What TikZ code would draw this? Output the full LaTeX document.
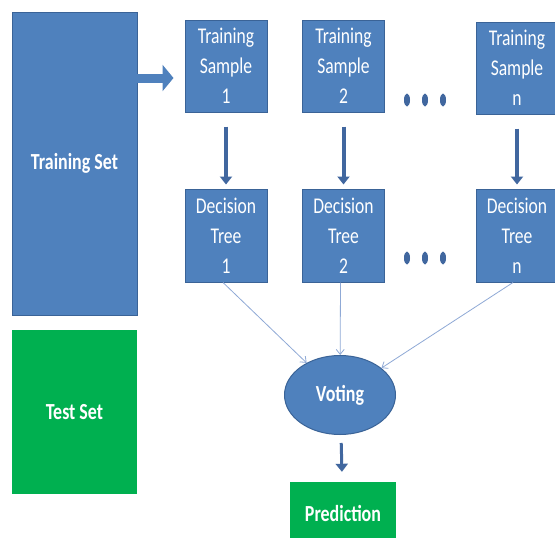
\documentclass[tikz,border=0pt]{standalone}
\usepackage{fontspec}
\setmainfont{Carlito}
\newfontfamily\tallfont{Carlito}[FakeStretch=0.78]
\usetikzlibrary{arrows.meta,shapes.geometric}
\definecolor{boxblue}{HTML}{4F81BD}
\definecolor{edgeblue}{HTML}{3A6397}
\definecolor{boxgreen}{HTML}{00B050}
\definecolor{arrowblue}{HTML}{41679F}
\definecolor{thinblue}{HTML}{8FA9D6}
\begin{document}
\begin{tikzpicture}[x=1pt, y=-1pt,
    setbox/.style={rectangle, fill=#1, text=white, minimum width=125pt, inner sep=0pt, font=\tallfont\fontsize{23}{26}\selectfont\bfseries},
    stage/.style={rectangle, draw=edgeblue, line width=1pt, fill=boxblue, text=white, minimum width=82pt, minimum height=92pt, align=center, inner sep=0pt, font=\tallfont\fontsize{22.5}{30}\selectfont},
    blockarr/.style={-{Triangle[length=11pt,width=26pt]}, line width=9pt, color=boxblue},
    downarr/.style={-{Triangle[length=8pt,width=12pt]}, line width=4pt, color=arrowblue},
    thinarr/.style={-{Straight Barb[length=5pt,width=8pt]}, line width=0.8pt, color=thinblue}
]
    \useasboundingbox[fill=white] (0,0) rectangle (555,538);

    % Ensembles de donnees
    \node[setbox=boxblue, draw=edgeblue, line width=1pt, minimum height=303pt] (trainset) at (74.5,163.5) {Training Set};
    \node[setbox=boxgreen, minimum height=164pt] (testset) at (74.5,412) {Test Set};

    % Echantillons et arbres
    \node[stage] (sample1) at (226,66) {Training\\Sample\\1};
    \node[stage] (sample2) at (343.5,66) {Training\\Sample\\2};
    \node[stage] (samplen) at (517,68) {Training\\Sample\\n};
    \node[stage, minimum height=93pt] (tree1) at (226,235.5) {Decision\\Tree\\1};
    \node[stage, minimum height=93pt] (tree2) at (343.5,235.5) {Decision\\Tree\\2};
    \node[stage, minimum height=93pt] (treen) at (517,235.5) {Decision\\Tree\\n};

    % Vote et prediction
    \node[ellipse, draw=edgeblue, line width=1pt, fill=boxblue, text=white, minimum width=111pt, minimum height=79pt, font=\tallfont\fontsize{23}{26}\selectfont\bfseries] (voting) at (340,395) {Voting};
    \node[setbox=boxgreen, minimum width=106pt, minimum height=62pt] (prediction) at (343,513) {Prediction};

    % Points de suspension
    \foreach \y in {100,258}
        \foreach \x in {407,425,443}
            \fill[arrowblue] (\x,\y) ellipse (3pt and 6.5pt);

    % Fleches
    \coordinate (entry) at ([yshift=-12pt]sample1.west);
    \draw[blockarr, shorten <=-8pt, shorten >=11pt] (trainset.east |- entry) -- (entry);
    \draw[downarr, shorten <=14pt, shorten >=4pt] (sample1) -- (tree1);
    \draw[downarr, shorten <=14pt, shorten >=4pt] (sample2) -- (tree2);
    \draw[downarr, shorten <=14pt, shorten >=4pt] (samplen) -- (treen);
    \draw[thinarr] ([xshift=-3pt]tree1.south) -- (voting);
    \draw[thinarr] ([xshift=-3pt]tree2.south) -- (voting);
    \draw[thinarr] ([xshift=-4pt]treen.south) -- (voting);
    \draw[downarr, line width=3pt, shorten <=8pt, shorten >=10pt] (voting) -- (prediction);
\end{tikzpicture}
\end{document}
